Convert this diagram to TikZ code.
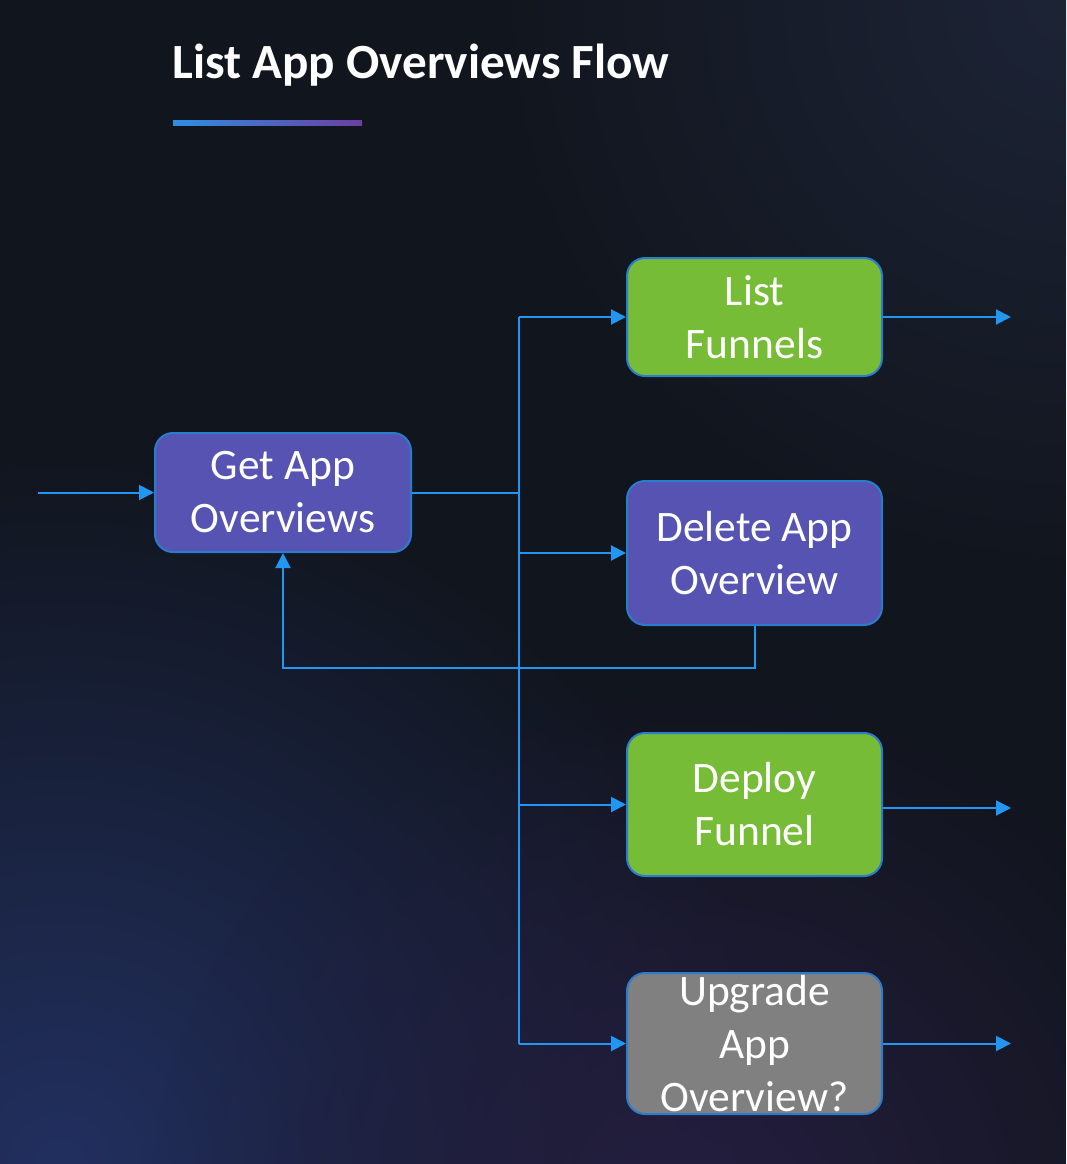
\documentclass[tikz,border=0pt]{standalone}
\usepackage{fontspec}
\setmainfont{Carlito}
\usetikzlibrary{arrows.meta,fadings}
\definecolor{bgbase}{HTML}{11151D}
\definecolor{glowbl}{HTML}{223060}
\definecolor{glowbr}{HTML}{251E40}
\definecolor{glowtr}{HTML}{1D2436}
\definecolor{linkblue}{HTML}{2196F3}
\definecolor{boxedge}{HTML}{2A7CCC}
\definecolor{boxpurple}{HTML}{5653B3}
\definecolor{boxgreen}{HTML}{76BC36}
\definecolor{boxgray}{HTML}{808080}
\definecolor{barblue}{HTML}{2F8DE4}
\definecolor{barpurple}{HTML}{6B3FA0}
\tikzfading[name=softglow,inner color=transparent!0,outer color=transparent!100]
\tikzset{
  x=1pt,y=-1pt,
  box/.style={draw=boxedge,line width=2pt,rounded corners=18pt,text=white,
    align=center,inner sep=0pt,minimum width=255pt,
    font=\fontsize{43.5}{53}\selectfont},
  link/.style={draw=linkblue,line width=2pt},
  arr/.style={link,-{Triangle[length=15pt,width=15pt]}}
}
\begin{document}
\begin{tikzpicture}
\useasboundingbox (0,0) rectangle (1066,1164);
\clip (0,0) rectangle (1066,1164);
\fill[bgbase] (0,0) rectangle (1066,1164);
\fill[glowbl,path fading=softglow] (60,1164) circle (720);
\fill[glowbr,path fading=softglow] (700,1220) circle (550);
\fill[glowtr,path fading=softglow] (1066,0) circle (600);
% title
\node[anchor=base west,inner sep=0pt,text=white,font=\fontsize{49.2}{58}\selectfont\bfseries] (title) at (172,78) {List App Overviews Flow};
\shade[left color=barblue,right color=barpurple] (173,120) rectangle (362,125);
% nodes
\node[box,fill=boxpurple,minimum width=256pt,minimum height=119pt] (get) at (283,492.5) {Get App\\Overviews};
\node[box,fill=boxgreen,minimum height=118pt] (list) at (754.5,317) {List\\Funnels};
\node[box,fill=boxpurple,minimum height=144pt] (del) at (754.5,553) {Delete App\\Overview};
\node[box,fill=boxgreen,minimum height=143pt] (deploy) at (754.5,804.5) {Deploy\\Funnel};
\node[box,fill=boxgray,minimum height=141pt] (upg) at (754.5,1043.5) {Upgrade\\App\\Overview?};
% coordinates
\coordinate (in) at (38,492.5);
\coordinate (jn) at (519,492.5);
\coordinate (ttop) at (519,317);
\coordinate (tbot) at (519,1043.5);
\coordinate (loop) at (519,668);
\coordinate (outl) at (1011,317);
\coordinate (outd) at (1011,808);
\coordinate (outu) at (1011,1043.5);
% connectors
\draw[arr] (in) -- (get.west);
\draw[link] (get.east) -- (jn);
\draw[link] (ttop) -- (tbot);
\draw[arr] (ttop) -- (list.west);
\draw[arr] (jn |- del.west) -- (del.west);
\draw[arr] (jn |- deploy.west) -- (deploy.west);
\draw[arr] (tbot) -- (upg.west);
\draw[arr] (del.south) |- (loop) -| (get.south);
\draw[arr] (list.east) -- (outl);
\draw[arr] (deploy.east |- outd) -- (outd);
\draw[arr] (upg.east) -- (outu);
\end{tikzpicture}
\end{document}
